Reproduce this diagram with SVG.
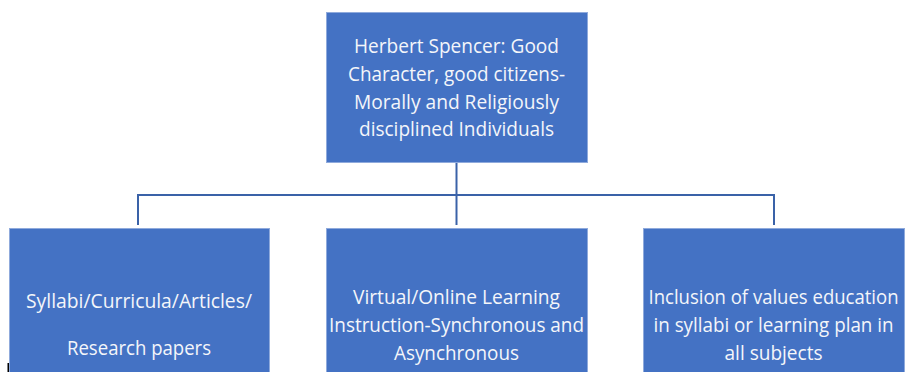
<svg xmlns="http://www.w3.org/2000/svg" width="905" height="372" viewBox="0 0 905 372">
<style>
.box{fill:#4472C4;stroke:#8FAADC;stroke-width:1}
.t{font-family:"Open Sans","Noto Sans","Liberation Sans",sans-serif;font-size:19.5px;fill:#F4F6FA;text-anchor:middle}
.c{fill:none;stroke:#3A62A8;stroke-width:2}
</style>
<rect width="905" height="372" fill="#FFFFFF"/>
<g id="connectors">
<path class="c" d="M456.5 163 V195"/>
<path class="c" d="M138 225 V195 H774 V225"/>
<path class="c" d="M456.5 195 V225"/>
</g>
<g id="top">
<rect class="box" x="326.5" y="12.5" width="261" height="150"/>
<text class="t" x="456.5" y="53" textLength="205" lengthAdjust="spacingAndGlyphs">Herbert Spencer: Good</text>
<text class="t" x="456.5" y="81" textLength="217" lengthAdjust="spacingAndGlyphs">Character, good citizens-</text>
<text class="t" x="456.5" y="108.5" textLength="205" lengthAdjust="spacingAndGlyphs">Morally and Religiously</text>
<text class="t" x="456.5" y="136" textLength="195" lengthAdjust="spacingAndGlyphs">disciplined Individuals</text>
</g>
<g id="left">
<rect class="box" x="9.5" y="228.5" width="260" height="150"/>
<text class="t" x="139" y="308" textLength="226" lengthAdjust="spacingAndGlyphs">Syllabi/Curricula/Articles/</text>
<text class="t" x="139" y="355" textLength="144" lengthAdjust="spacingAndGlyphs">Research papers</text>
</g>
<g id="middle">
<rect class="box" x="326.5" y="228.5" width="261" height="150"/>
<text class="t" x="456.5" y="304" textLength="207" lengthAdjust="spacingAndGlyphs">Virtual/Online Learning</text>
<text class="t" x="456.5" y="332" textLength="255" lengthAdjust="spacingAndGlyphs">Instruction-Synchronous and</text>
<text class="t" x="456.5" y="360" textLength="125" lengthAdjust="spacingAndGlyphs">Asynchronous</text>
</g>
<g id="right">
<rect class="box" x="643.5" y="228.5" width="261" height="150"/>
<text class="t" x="773.5" y="304" textLength="250" lengthAdjust="spacingAndGlyphs">Inclusion of values education</text>
<text class="t" x="773.5" y="332" textLength="240" lengthAdjust="spacingAndGlyphs">in syllabi or learning plan in</text>
<text class="t" x="773.5" y="360" textLength="98" lengthAdjust="spacingAndGlyphs">all subjects</text>
</g>
<rect x="7.5" y="363" width="1.5" height="9" fill="#000000"/>
</svg>
